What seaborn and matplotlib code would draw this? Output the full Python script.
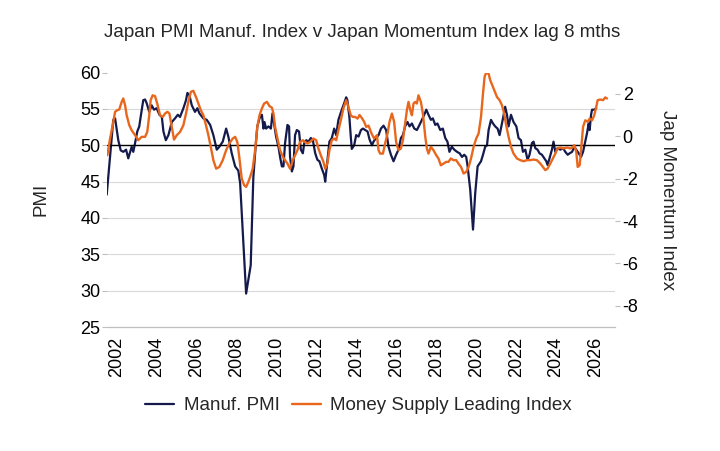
import matplotlib
matplotlib.use("Agg")
import matplotlib.pyplot as plt
import seaborn as sns
import pandas as pd
import numpy as np
from matplotlib.ticker import FixedLocator

# ---------------- data ----------------
pmi_year = [2001.50, 2001.83, 2001.92, 2002.08, 2002.20, 2002.33, 2002.47, 2002.58, 2002.75, 2002.83,
            2002.92, 2003.03, 2003.13, 2003.20, 2003.33, 2003.42, 2003.50, 2003.63, 2003.75, 2003.87,
            2004.00, 2004.14, 2004.26, 2004.34, 2004.46, 2004.59, 2004.76, 2004.92, 2005.06, 2005.17,
            2005.34, 2005.47, 2005.54, 2005.64, 2005.76, 2005.92, 2006.04, 2006.14, 2006.34, 2006.51,
            2006.68, 2006.84, 2007.01, 2007.14, 2007.31, 2007.48, 2007.59, 2007.76, 2007.93, 2008.09,
            2008.18, 2008.48, 2008.71, 2008.84, 2008.93, 2009.04, 2009.15, 2009.27, 2009.35, 2009.40,
            2009.48, 2009.60, 2009.72, 2009.80, 2009.88, 2009.98, 2010.10, 2010.18, 2010.27, 2010.35,
            2010.43, 2010.55, 2010.63, 2010.68, 2010.77, 2010.85, 2010.93, 2011.02, 2011.13, 2011.22,
            2011.32, 2011.39, 2011.49, 2011.60, 2011.72, 2011.82, 2011.94, 2012.05, 2012.15, 2012.27,
            2012.39, 2012.44, 2012.52, 2012.65, 2012.77, 2012.89, 2012.99, 2013.10, 2013.27, 2013.39,
            2013.49, 2013.55, 2013.65, 2013.72, 2013.77, 2013.89, 2013.99, 2014.11, 2014.23, 2014.33,
            2014.44, 2014.56, 2014.66, 2014.78, 2014.86, 2014.98, 2015.11, 2015.23, 2015.36, 2015.49,
            2015.61, 2015.73, 2015.86, 2015.99, 2016.11, 2016.23, 2016.33, 2016.44, 2016.56, 2016.66,
            2016.78, 2016.90, 2017.03, 2017.16, 2017.28, 2017.40, 2017.50, 2017.61, 2017.73, 2017.83,
            2017.95, 2018.06, 2018.20, 2018.33, 2018.45, 2018.56, 2018.66, 2018.78, 2018.90, 2019.04,
            2019.17, 2019.29, 2019.40, 2019.50, 2019.57, 2019.70, 2019.84, 2019.95, 2020.07, 2020.24,
            2020.34, 2020.45, 2020.54, 2020.62, 2020.74, 2020.84, 2020.95, 2021.07, 2021.17, 2021.34,
            2021.45, 2021.54, 2021.62, 2021.74, 2021.87, 2022.01, 2022.12, 2022.24, 2022.34, 2022.46,
            2022.57, 2022.67, 2022.79, 2022.87, 2022.96, 2023.07, 2023.17, 2023.29, 2023.41, 2023.51,
            2023.57, 2023.67, 2023.79, 2023.87, 2023.96, 2024.07, 2024.21, 2024.35, 2024.46, 2024.58,
            2024.68, 2024.80, 2024.91, 2025.01, 2025.13, 2025.25, 2025.35, 2025.46, 2025.55, 2025.63,
            2025.68, 2025.75, 2025.80, 2025.91, 2026.01]
pmi_value = [43.2, 53.5, 53.7, 50.7, 49.3, 49.1, 49.4, 48.2, 49.8, 49.1,
             50.3, 51.9, 52.6, 53.9, 56.2, 56.3, 55.8, 54.6, 55.5, 54.9,
             55.1, 54.2, 53.9, 51.9, 50.7, 51.4, 53.2, 53.7, 54.2, 53.9,
             55.1, 56.2, 57.2, 56.9, 55.5, 54.6, 55.1, 54.4, 53.7, 53.5,
             52.8, 51.4, 49.4, 49.8, 50.5, 52.3, 51.2, 48.9, 47.1, 46.5,
             44.8, 29.6, 33.5, 45.5, 48.9, 52.6, 53.7, 54.2, 52.3, 53.2,
             52.3, 52.6, 52.3, 54.4, 53.0, 51.2, 49.8, 48.4, 47.1, 47.1,
             50.3, 52.8, 52.6, 48.4, 46.4, 47.1, 51.4, 52.1, 51.9, 49.4,
             48.9, 50.3, 50.7, 50.5, 51.0, 50.7, 48.9, 48.0, 47.8, 46.8,
             45.9, 45.0, 47.1, 50.5, 51.0, 52.3, 51.4, 53.5, 54.9, 55.8,
             56.6, 56.2, 53.9, 51.2, 49.5, 50.0, 51.4, 51.2, 52.1, 52.3,
             52.1, 51.9, 50.8, 50.0, 50.5, 51.0, 51.4, 52.3, 52.7, 52.1,
             49.8, 48.7, 47.8, 48.7, 49.4, 51.0, 51.4, 52.6, 53.2, 52.6,
             53.0, 52.3, 52.1, 52.8, 53.5, 54.2, 54.9, 54.2, 53.5, 53.7,
             52.8, 53.0, 52.1, 52.3, 51.0, 50.5, 49.1, 49.8, 49.4, 49.1,
             48.9, 48.4, 48.7, 48.4, 47.1, 43.9, 38.4, 43.4, 47.1, 47.8,
             48.7, 49.8, 50.0, 52.1, 53.5, 53.0, 52.6, 52.3, 51.4, 53.7,
             55.3, 54.2, 52.6, 54.2, 53.2, 52.6, 51.0, 50.7, 49.1, 49.4,
             48.0, 48.7, 50.3, 50.5, 49.6, 49.4, 48.9, 48.7, 48.2, 47.8,
             47.3, 48.2, 49.4, 50.5, 49.1, 49.6, 49.4, 49.6, 49.1, 48.7,
             48.9, 49.1, 49.8, 49.4, 48.9, 48.4, 49.1, 50.5, 51.7, 53.0,
             52.1, 54.2, 54.9, 54.9, 55.1]

msli_year = [2001.53, 2001.67, 2001.80, 2001.92, 2002.03, 2002.13, 2002.25, 2002.33, 2002.42, 2002.50,
             2002.63, 2002.75, 2002.92, 2003.08, 2003.25, 2003.42, 2003.53, 2003.63, 2003.70, 2003.80,
             2003.92, 2004.03, 2004.17, 2004.31, 2004.42, 2004.54, 2004.64, 2004.76, 2004.87, 2005.01,
             2005.17, 2005.34, 2005.47, 2005.59, 2005.71, 2005.84, 2005.97, 2006.09, 2006.21, 2006.34,
             2006.47, 2006.59, 2006.71, 2006.84, 2006.98, 2007.14, 2007.31, 2007.48, 2007.64, 2007.81,
             2007.93, 2008.04, 2008.14, 2008.26, 2008.38, 2008.48, 2008.59, 2008.71, 2008.81, 2008.93,
             2009.04, 2009.15, 2009.27, 2009.38, 2009.52, 2009.65, 2009.77, 2009.85, 2009.93, 2010.05,
             2010.18, 2010.32, 2010.43, 2010.55, 2010.68, 2010.82, 2010.93, 2011.05, 2011.18, 2011.32,
             2011.43, 2011.55, 2011.69, 2011.85, 2011.99, 2012.10, 2012.22, 2012.35, 2012.44, 2012.55,
             2012.65, 2012.77, 2012.89, 2012.99, 2013.10, 2013.22, 2013.35, 2013.49, 2013.60, 2013.72,
             2013.82, 2013.94, 2014.06, 2014.16, 2014.28, 2014.39, 2014.49, 2014.61, 2014.75, 2014.89,
             2015.03, 2015.11, 2015.19, 2015.33, 2015.44, 2015.56, 2015.66, 2015.78, 2015.89, 2015.99,
             2016.11, 2016.23, 2016.33, 2016.44, 2016.53, 2016.61, 2016.70, 2016.78, 2016.86, 2016.95,
             2017.03, 2017.11, 2017.23, 2017.33, 2017.45, 2017.53, 2017.61, 2017.73, 2017.86, 2018.00,
             2018.11, 2018.23, 2018.36, 2018.50, 2018.61, 2018.73, 2018.86, 2019.00, 2019.11, 2019.24,
             2019.37, 2019.50, 2019.62, 2019.74, 2019.87, 2020.00, 2020.12, 2020.24, 2020.34, 2020.42,
             2020.50, 2020.62, 2020.70, 2020.87, 2021.04, 2021.17, 2021.29, 2021.40, 2021.50, 2021.62,
             2021.74, 2021.87, 2022.04, 2022.21, 2022.37, 2022.54, 2022.71, 2022.87, 2023.04, 2023.21,
             2023.34, 2023.46, 2023.57, 2023.71, 2023.84, 2023.96, 2024.07, 2024.21, 2024.38, 2024.55,
             2024.71, 2024.85, 2024.91, 2025.01, 2025.08, 2025.18, 2025.25, 2025.35, 2025.46, 2025.58,
             2025.68, 2025.80, 2025.91, 2026.01, 2026.08, 2026.21, 2026.35, 2026.46, 2026.55]
msli_value = [-0.90, -0.11, 0.52, 1.15, 1.23, 1.26, 1.62, 1.78, 1.46, 0.99,
              0.52, 0.28, 0.05, -0.19, -0.03, -0.03, 0.20, 0.99, 1.70, 1.93,
              1.89, 1.54, 0.99, 0.91, 1.07, 1.15, 1.07, 0.44, -0.16, 0.05,
              0.20, 0.52, 1.07, 1.62, 2.09, 2.14, 1.85, 1.54, 1.23, 0.99,
              0.52, 0.05, -0.50, -1.13, -1.53, -1.45, -1.13, -0.66, -0.34, -0.11,
              -0.03, -0.27, -1.00, -2.00, -2.31, -2.39, -2.16, -1.84, -1.53, -0.66,
              0.44, 0.99, 1.31, 1.54, 1.62, 1.42, 1.35, 1.07, 0.44, -0.11,
              -0.66, -0.97, -1.13, -1.29, -1.53, -1.13, -0.90, -0.66, -0.27, -0.19,
              -0.27, -0.34, -0.27, -0.11, -0.19, -0.58, -0.90, -1.21, -1.53, -1.29,
              -0.66, -0.19, -0.11, -0.19, 0.28, 0.75, 1.31, 1.70, 1.38, 0.99,
              0.91, 0.91, 0.83, 1.00, 0.85, 0.68, 0.44, 0.50, 0.15, -0.11,
              0.05, -0.66, -0.82, -0.82, -0.34, 0.13, 0.68, 1.07, 0.68, -0.27,
              -0.66, -0.58, -0.19, 0.60, 1.23, 1.62, 1.23, 0.99, 1.54, 1.62,
              1.54, 1.93, 1.62, 1.07, -0.03, -0.58, -0.82, -0.50, -0.66, -0.90,
              -1.05, -1.37, -1.29, -1.21, -1.21, -1.05, -1.13, -1.13, -1.29, -1.45,
              -1.76, -1.68, -1.45, -1.05, -0.50, -0.11, 0.13, 0.91, 2.01, 2.80,
              3.00, 2.95, 2.65, 2.25, 1.85, 1.70, 1.46, 1.07, 0.52, -0.03,
              -0.50, -0.82, -1.05, -1.13, -1.18, -1.13, -1.13, -1.10, -1.13, -1.29,
              -1.45, -1.60, -1.53, -1.29, -1.05, -0.82, -0.58, -0.53, -0.58, -0.53,
              -0.58, -0.50, -0.42, -0.74, -1.45, -1.37, -0.66, 0.44, 0.75, 0.68,
              0.83, 0.75, 0.99, 1.38, 1.70, 1.73, 1.70, 1.83, 1.78]

label_years = list(range(2002, 2027, 2))
left_ticks = [25, 30, 35, 40, 45, 50, 55, 60]
right_ticks = [-8, -6, -4, -2, 0, 2]

title = "Japan PMI Manuf. Index v Japan Momentum Index lag 8 mths"
pmi_name = "Manuf. PMI"
msli_name = "Money Supply Leading Index"

# ---------------- style ----------------
sns.set_style("white")
plt.rcParams["font.family"] = ["Liberation Sans", "DejaVu Sans"]

NAVY = "#141a4c"
ORANGE = "#e8671c"
GRID = "#d9d9d9"
TICKC = "#bfbfbf"

fig = plt.figure(figsize=(7.2, 4.51), dpi=100)
ax = fig.add_axes([0.1482, 0.2749, 0.7060, 0.5641])
ax2 = ax.twinx()

df_pmi = pd.DataFrame({"year": pmi_year, "value": pmi_value})
df_msli = pd.DataFrame({"year": msli_year, "value": msli_value})

sns.lineplot(data=df_pmi, x="year", y="value", ax=ax, color=NAVY, lw=1.6, legend=False)
sns.lineplot(data=df_msli, x="year", y="value", ax=ax2, color=ORANGE, lw=1.7, legend=False)
pmi_line = ax.get_lines()[0]
msli_line = ax2.get_lines()[0]

ax.axhline(50, color="black", lw=1.0, zorder=3)

ax.set_xlim(2001.5, 2026.95)
ax.set_ylim(25, 60)
ax2.set_ylim(-9, 3)

ax.set_yticks(left_ticks)
ax.set_yticklabels([str(t) for t in left_ticks])
ax2.set_yticks(right_ticks)
ax2.set_yticklabels([str(t) for t in right_ticks])

ax.set_xticks(label_years)
ax.set_xticklabels([str(y) for y in label_years], rotation=90)
ax.xaxis.set_minor_locator(FixedLocator([y - 0.5 for y in range(2002, 2028)]))

ax.grid(axis="y", color=GRID, lw=0.8)
ax.grid(axis="x", visible=False)
ax2.grid(False)
for gl, t in zip(ax.get_ygridlines(), left_ticks):
    if t in (25, 60):
        gl.set_visible(False)
ax.set_axisbelow(True)

for a in (ax, ax2):
    for s in ("left", "right", "top"):
        a.spines[s].set_visible(False)
ax2.spines["bottom"].set_visible(False)
ax.spines["bottom"].set_color(TICKC)
ax.spines["bottom"].set_linewidth(0.9)

ax.tick_params(axis="x", which="major", length=0, pad=7, labelsize=13, colors="black")
ax.tick_params(axis="x", which="minor", length=3.5, width=0.8, color=TICKC, direction="out")
ax.tick_params(axis="y", which="major", length=3.5, width=0.8, color=TICKC, pad=1,
               labelsize=13, labelcolor="black", left=True)
ax2.tick_params(axis="y", which="major", length=3.5, width=0.8, color=TICKC, pad=2,
                labelsize=13, labelcolor="black", right=True)

ax.set_xlabel("")
ax.set_ylabel("PMI", fontsize=13.5)
ax.yaxis.set_label_coords(-0.1135, 0.5)
ax2.set_ylabel("Jap Momentum Index", fontsize=13.5, rotation=270, va="center")
ax2.yaxis.set_label_coords(1.104, 0.5)

fig.text(0.503, 0.927, title, ha="center", va="center", fontsize=13.5)

fig.legend(handles=[pmi_line, msli_line], labels=[pmi_name, msli_name],
           loc="center", bbox_to_anchor=(0.498, 0.100), ncol=2, frameon=False,
           fontsize=13.5, handlelength=1.55, handletextpad=0.5, columnspacing=0.65)

fig.savefig("out.png", dpi=100)
